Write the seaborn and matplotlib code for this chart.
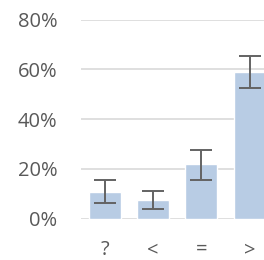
import matplotlib
matplotlib.use("Agg")
import matplotlib.pyplot as plt
import seaborn as sns
import pandas as pd
import numpy as np

# data
categories = ["?", "<", "=", ">"]
values = [10.9, 7.5, 21.8, 58.9]
err_low = [4.6, 3.5, 6.1, 6.4]
err_high = [4.7, 3.8, 5.8, 6.6]
y_ticks = [0, 20, 40, 60, 80]

sns.set_style("white")
plt.rcParams["font.family"] = ["Open Sans", "DejaVu Sans"]

df = pd.DataFrame({"cat": categories, "val": values})

fig = plt.figure(figsize=(2.64, 2.60), dpi=100, facecolor="white")
ax = fig.add_axes([81 / 264, 0.159, 1 - 81 / 264, 0.766])

sns.barplot(data=df, x="cat", y="val", color="#b8cce4", saturation=1,
            width=0.66, errorbar=None, ax=ax, zorder=2)
ax.errorbar(np.arange(len(categories)), values, yerr=[err_low, err_high],
            fmt="none", ecolor="#636363", elinewidth=1.4, capsize=8,
            capthick=1.4, zorder=3)

ax.set_xlim(-0.49, 3.30)
ax.set_ylim(0, 80)
ax.set_yticks(y_ticks)
ax.set_yticklabels([f"{t}%" for t in y_ticks])
ax.set_xlabel("")
ax.set_ylabel("")

ax.yaxis.grid(True, color="#d9d9d9", linewidth=1.2, zorder=0)
ax.set_axisbelow(True)
for s in ax.spines.values():
    s.set_visible(False)
ax.tick_params(axis="both", length=0, labelsize=14.5, colors="#595959")
ax.tick_params(axis="y", pad=17)
ax.tick_params(axis="x", pad=15.5)

fig.savefig("out.png", dpi=100, facecolor="white")
